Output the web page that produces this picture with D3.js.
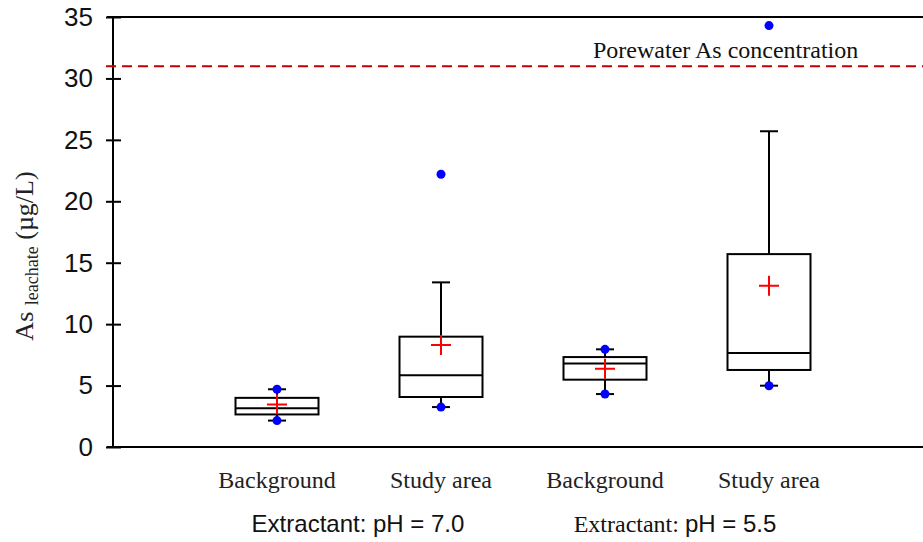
<!DOCTYPE html>
<html>
<head>
<meta charset="utf-8">
<script src="https://cdn.jsdelivr.net/npm/d3@7"></script>
<style>
  body { margin: 0; background: #fff; }
  svg { display: block; }
</style>
</head>
<body>
<svg id="chart" width="923" height="542"></svg>
<script>
// box plot summaries
var groups = ["Background", "Study area", "Background", "Study area"];
var q1 = [2.65, 4.07, 5.48, 6.27];
var medians = [3.15, 5.83, 6.8, 7.65];
var q3 = [4.0, 8.98, 7.32, 15.7];
var whiskerLow = [2.15, 3.25, 4.31, 4.99];
var whiskerHigh = [4.7, 13.4, 7.95, 25.7];
var means = [3.45, 8.3, 6.37, 13.12];
var minVals = [2.15, 3.25, 4.31, 4.99];
var maxVals = [4.7, 22.2, 7.95, 34.3];
var yTicks = [0, 5, 10, 15, 20, 25, 30, 35];
var porewater = 31;
var extractants = ["7.0", "5.5"];

var svg = d3.select("#chart");

var x = d3.scaleLinear().domain([0, 5]).range([113, 933]);
var y = d3.scaleLinear().domain([0, 35]).range([447, 17]);

var boxW = 83, capW = 18, crossW = 20;
var serif = "'Liberation Serif', 'Times New Roman', serif";
var sans = "Arial, 'Liberation Sans', sans-serif";

// y axis
var yAxis = svg.append("g")
    .attr("transform", "translate(113,0)")
    .call(d3.axisLeft(y).tickValues(yTicks).tickSize(7).tickPadding(13));
yAxis.select(".domain").remove();
yAxis.selectAll(".tick line")
    .attr("x1", 8)
    .attr("stroke", "#000")
    .attr("stroke-width", 2);
yAxis.selectAll(".tick text")
    .attr("font-family", sans)
    .attr("font-size", 26)
    .attr("fill", "#111");

svg.append("line")
    .attr("x1", 113).attr("x2", 113)
    .attr("y1", y(35)).attr("y2", y(0))
    .attr("stroke", "#000").attr("stroke-width", 2);

// frame top and bottom
svg.append("line")
    .attr("x1", 107).attr("x2", 923)
    .attr("y1", y(35)).attr("y2", y(35))
    .attr("stroke", "#000").attr("stroke-width", 2);
svg.append("line")
    .attr("x1", 107).attr("x2", 923)
    .attr("y1", y(0)).attr("y2", y(0))
    .attr("stroke", "#000").attr("stroke-width", 2);

// porewater reference line
svg.append("line")
    .attr("x1", 106).attr("x2", 923)
    .attr("y1", y(porewater)).attr("y2", y(porewater))
    .attr("stroke", "#c00000")
    .attr("stroke-width", 2)
    .attr("stroke-dasharray", "10,6");
svg.append("text")
    .attr("x", 593).attr("y", 58)
    .attr("font-family", serif)
    .attr("font-size", 24)
    .attr("fill", "#111")
    .text("Porewater As concentration");

// y label
var yLabel = svg.append("text")
    .attr("transform", "translate(33,256) rotate(-90)")
    .attr("text-anchor", "middle")
    .attr("font-family", serif)
    .attr("font-size", 26)
    .attr("fill", "#222");
yLabel.append("tspan").text("As ");
yLabel.append("tspan").attr("font-size", 18).attr("dy", 5).text("leachate");
yLabel.append("tspan").attr("dy", -5).text(" (\u00b5g/L)");

// boxes
var box = svg.selectAll("g.box")
    .data(groups)
  .enter().append("g")
    .attr("class", "box")
    .attr("transform", function(d, i) { return "translate(" + x(i + 1) + ",0)"; });

box.append("line")
    .attr("y1", function(d, i) { return y(q3[i]); })
    .attr("y2", function(d, i) { return y(whiskerHigh[i]); })
    .attr("stroke", "#000").attr("stroke-width", 2);
box.append("line")
    .attr("y1", function(d, i) { return y(q1[i]); })
    .attr("y2", function(d, i) { return y(whiskerLow[i]); })
    .attr("stroke", "#000").attr("stroke-width", 2);
box.append("line")
    .attr("x1", -capW / 2).attr("x2", capW / 2)
    .attr("y1", function(d, i) { return y(whiskerHigh[i]); })
    .attr("y2", function(d, i) { return y(whiskerHigh[i]); })
    .attr("stroke", "#000").attr("stroke-width", 2);
box.append("line")
    .attr("x1", -capW / 2).attr("x2", capW / 2)
    .attr("y1", function(d, i) { return y(whiskerLow[i]); })
    .attr("y2", function(d, i) { return y(whiskerLow[i]); })
    .attr("stroke", "#000").attr("stroke-width", 2);

box.append("rect")
    .attr("x", -boxW / 2)
    .attr("width", boxW)
    .attr("y", function(d, i) { return y(q3[i]); })
    .attr("height", function(d, i) { return y(q1[i]) - y(q3[i]); })
    .attr("fill", "#fff")
    .attr("stroke", "#000").attr("stroke-width", 2);
box.append("line")
    .attr("x1", -boxW / 2).attr("x2", boxW / 2)
    .attr("y1", function(d, i) { return y(medians[i]); })
    .attr("y2", function(d, i) { return y(medians[i]); })
    .attr("stroke", "#000").attr("stroke-width", 2);

// min / max points
box.append("circle")
    .attr("r", 4.5)
    .attr("cy", function(d, i) { return y(minVals[i]); })
    .attr("fill", "#0000ff");
box.append("circle")
    .attr("r", 4.5)
    .attr("cy", function(d, i) { return y(maxVals[i]); })
    .attr("fill", "#0000ff");

// mean crosses
box.append("path")
    .attr("d", function(d, i) {
      var cy = y(means[i]);
      return "M" + (-crossW / 2) + "," + cy + "H" + (crossW / 2) +
             "M0," + (cy - crossW / 2) + "V" + (cy + crossW / 2);
    })
    .attr("stroke", "#ff0000").attr("stroke-width", 2).attr("fill", "none");

// category labels
box.append("text")
    .attr("y", 488)
    .attr("text-anchor", "middle")
    .attr("font-family", serif)
    .attr("font-size", 24)
    .attr("fill", "#222")
    .text(function(d) { return d; });

// extractant labels
svg.append("text")
    .attr("x", x(1.5) - 1).attr("y", 532)
    .attr("text-anchor", "middle")
    .attr("font-family", sans)
    .attr("font-size", 24)
    .attr("fill", "#111")
    .text("Extractant: pH = " + extractants[0]);

var ext2 = svg.append("text")
    .attr("x", x(3.5) - 12).attr("y", 532)
    .attr("text-anchor", "middle")
    .attr("font-size", 24)
    .attr("fill", "#111");
ext2.append("tspan")
    .attr("font-family", serif)
    .text("Extractant:  ");
ext2.append("tspan")
    .attr("font-family", sans)
    .text("pH = " + extractants[1]);
</script>
</body>
</html>
